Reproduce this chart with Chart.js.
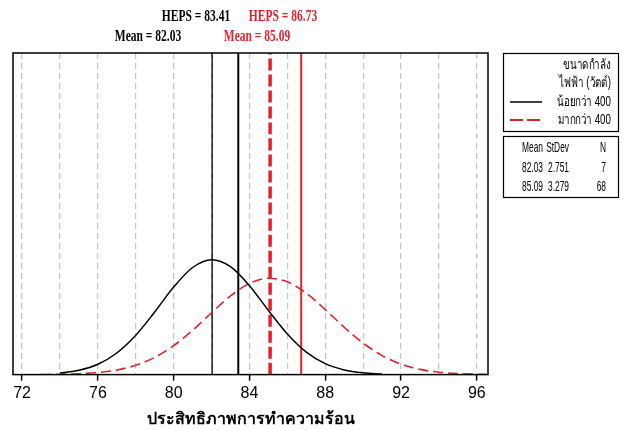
<!DOCTYPE html>
<html>
<head>
<meta charset="utf-8">
<script src="https://cdn.jsdelivr.net/npm/chart.js@4.4.1/dist/chart.umd.min.js"></script>
<style>
  body { margin: 0; background: #fff; }
  #wrap { width: 624px; height: 430px; }
</style>
</head>
<body>
<div id="wrap"><canvas id="hepsChart" width="624" height="430"></canvas></div>
<script>
// fitted normal curves
const lowX = [74, 75, 76, 77, 78, 79, 80, 81, 82, 83, 84, 85, 86, 87, 88, 89, 90, 91];
const lowY = [0.0021, 0.0055, 0.0131, 0.0273, 0.0496, 0.0791, 0.1105, 0.1352, 0.1450, 0.1363,
              0.1122, 0.0810, 0.0512, 0.0284, 0.0138, 0.0059, 0.0022, 0.0007];
const highX = [73, 74, 75, 76, 77, 78, 79, 80, 81, 82, 83, 84, 85, 86, 87, 88, 89, 90, 91, 92, 93, 94, 95, 96, 96.5];
const highY = [0.0001, 0.0004, 0.0011, 0.0026, 0.0058, 0.0118, 0.0217, 0.0365, 0.0559, 0.0781,
               0.0993, 0.1151, 0.1216, 0.1171, 0.1027, 0.0821, 0.0598, 0.0397, 0.0240, 0.0132,
               0.0066, 0.0030, 0.0013, 0.0005, 0.0003];

const meanLow = 82.03, hepsLow = 83.41;
const meanHigh = 85.09, hepsHigh = 86.73;

const gridTicks = [72, 74, 76, 78, 80, 82, 84, 86, 88, 90, 92, 94, 96];
const xMin = 71.52, xMax = 96.59, yMax = 0.406;

const legendTitle = ["ขนาดกำลัง", "ไฟฟ้า (วัตต์)"];
const legendLabels = ["น้อยกว่า 400", "มากกว่า 400"];
const statHeader = ["Mean", "StDev", "N"];
const statRows = [["82.03", "2.751", "7"], ["85.09", "3.279", "68"]];

const RED = "#e3232a";

function pts(xs, ys) {
    return xs.map((x, i) => ({ x: x, y: ys[i] }));
}
function vline(v) {
    return [{ x: v, y: 0 }, { x: v, y: yMax }];
}

// squeezed text, the original picture is narrow
function squeezed(ctx, text, x, y, font, color, align, sx) {
    ctx.save();
    ctx.font = font;
    ctx.fillStyle = color;
    ctx.textAlign = align;
    ctx.textBaseline = "middle";
    ctx.translate(x, y);
    ctx.scale(sx, 1);
    ctx.fillText(text, 0, 0);
    ctx.restore();
}

const extras = {
    id: "extras",
    afterDraw(chart) {
        const ctx = chart.ctx;
        const a = chart.chartArea;

        // plot frame
        ctx.save();
        ctx.strokeStyle = "#000";
        ctx.lineWidth = 1.5;
        ctx.strokeRect(a.left, a.top, a.right - a.left, a.bottom - a.top);
        ctx.restore();

        // header labels
        const hf = "bold 16px 'Liberation Serif', serif";
        squeezed(ctx, "HEPS = " + hepsLow.toFixed(2), 196, 17, hf, "#000", "center", 0.72);
        squeezed(ctx, "HEPS = " + hepsHigh.toFixed(2), 283, 17, hf, RED, "center", 0.72);
        squeezed(ctx, "Mean = " + meanLow.toFixed(2), 148, 37, hf, "#000", "center", 0.72);
        squeezed(ctx, "Mean = " + meanHigh.toFixed(2), 257, 37, hf, RED, "center", 0.72);

        // legend boxes
        const lf = "14px 'Liberation Sans', sans-serif";
        const sf = "15px 'Liberation Sans', sans-serif";
        ctx.save();
        ctx.strokeStyle = "#000";
        ctx.lineWidth = 1.2;
        ctx.strokeRect(503.5, 53.5, 115, 78);
        ctx.strokeRect(503.5, 136.5, 115, 61);
        ctx.restore();

        squeezed(ctx, legendTitle[0], 611, 65, lf, "#000", "right", 0.7);
        squeezed(ctx, legendTitle[1], 611, 83, lf, "#000", "right", 0.7);
        squeezed(ctx, legendLabels[0], 611, 102, lf, "#000", "right", 0.7);
        squeezed(ctx, legendLabels[1], 611, 120, lf, "#000", "right", 0.7);

        ctx.save();
        ctx.lineWidth = 1.5;
        ctx.strokeStyle = "#000";
        ctx.beginPath(); ctx.moveTo(510, 102); ctx.lineTo(542, 102); ctx.stroke();
        ctx.strokeStyle = RED;
        ctx.lineWidth = 2;
        ctx.setLineDash([13, 4]);
        ctx.beginPath(); ctx.moveTo(510, 120); ctx.lineTo(542, 120); ctx.stroke();
        ctx.restore();

        const colRight = [543, 569, 606];
        const rowY = [148, 168, 187];
        statHeader.forEach((t, c) => squeezed(ctx, t, colRight[c], rowY[0], sf, "#000", "right", 0.56));
        statRows.forEach((row, r) => {
            row.forEach((t, c) => squeezed(ctx, t, colRight[c], rowY[r + 1], sf, "#000", "right", 0.56));
        });
    }
};

const ctx = document.getElementById("hepsChart").getContext("2d");
const hepsChart = new Chart(ctx, {
    type: "line",
    data: {
        datasets: [
            { data: pts(lowX, lowY), borderColor: "#000", borderWidth: 1.5 },
            { data: pts(highX, highY), borderColor: RED, borderWidth: 1.6, borderDash: [10, 5] },
            { data: vline(meanLow), borderColor: "#000", borderWidth: 1.3 },
            { data: vline(hepsLow), borderColor: "#000", borderWidth: 2 },
            { data: vline(meanHigh), borderColor: RED, borderWidth: 3.5, borderDash: [12, 4] },
            { data: vline(hepsHigh), borderColor: RED, borderWidth: 2 }
        ]
    },
    options: {
        responsive: false,
        animation: false,
        layout: { padding: { left: 13, right: 136, top: 53, bottom: 0 } },
        elements: {
            point: { radius: 0, hoverRadius: 0 },
            line: { cubicInterpolationMode: "monotone", fill: false }
        },
        plugins: {
            legend: { display: false },
            tooltip: { enabled: false }
        },
        scales: {
            x: {
                type: "linear",
                min: xMin,
                max: xMax,
                afterBuildTicks: (axis) => { axis.ticks = gridTicks.map(v => ({ value: v })); },
                grid: {
                    color: "#c4c4c4",
                    lineWidth: 1.2,
                    drawTicks: true,
                    tickLength: 6,
                    tickWidth: 1.5,
                    tickBorderDash: [],
                    tickColor: (c) => (c.tick && c.tick.value % 4 === 0) ? "#000" : "rgba(0,0,0,0)"
                },
                border: { display: false, dash: [6, 4] },
                ticks: {
                    autoSkip: false,
                    maxRotation: 0,
                    padding: 3,
                    color: "#000",
                    font: { family: "'Liberation Sans', sans-serif", size: 16 },
                    callback: (v) => (v % 4 === 0 ? String(v) : "")
                },
                title: {
                    display: true,
                    text: "ประสิทธิภาพการทำความร้อน",
                    color: "#000",
                    font: { family: "'Liberation Serif', serif", size: 16, weight: "bold" },
                    padding: { top: 4, bottom: 1 }
                }
            },
            y: {
                display: false,
                min: 0,
                max: yMax
            }
        }
    },
    plugins: [extras]
});
</script>
</body>
</html>
